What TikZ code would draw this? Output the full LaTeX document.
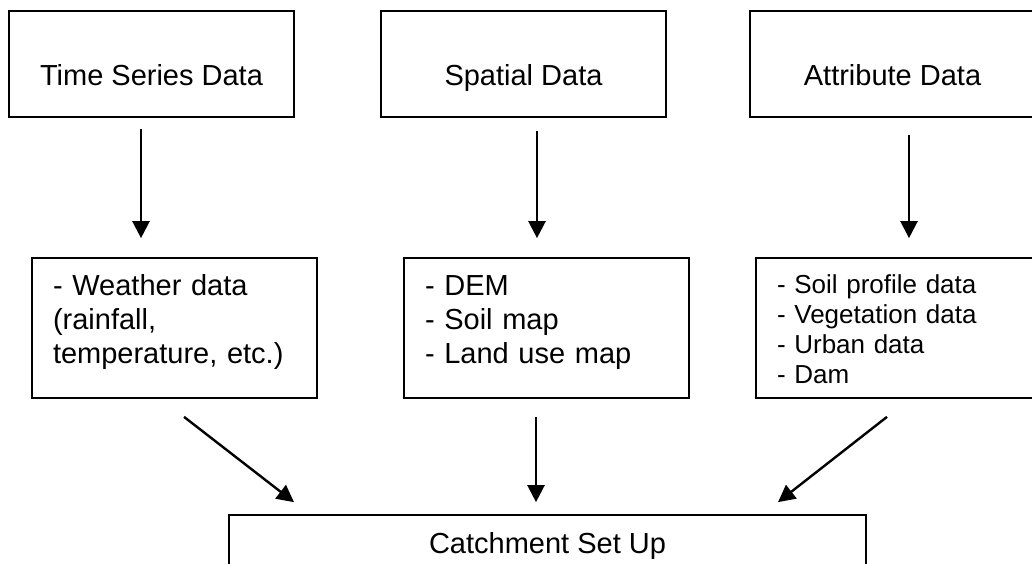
\documentclass[tikz,border=0pt]{standalone}
\usepackage{fontspec}
\setmainfont{Liberation Sans}
\usetikzlibrary{arrows.meta, calc}

\tikzset{
  databox/.style={draw, line width=1.7pt, minimum width=285pt, minimum height=106pt,
    font=\fontsize{29pt}{34pt}\selectfont, text height=44pt, text depth=0pt},
  listbox/.style={draw, line width=1.7pt, align=left, text width=243pt,
    inner xsep=21pt, inner ysep=0pt, font=\fontsize{29pt}{34pt}\selectfont,
    text height=37pt, text depth=103pt},
  smalllist/.style={listbox, font=\fontsize{26pt}{30pt}\selectfont,
    text height=35pt, text depth=105pt},
  setupbox/.style={draw, line width=1.7pt, minimum width=637pt, minimum height=62pt,
    font=\fontsize{29pt}{34pt}\selectfont},
  flow/.style={-{Triangle[length=17pt,width=17pt]}, line width=2.4pt},
}

\begin{document}
\begin{tikzpicture}[x=1pt, y=-1pt]
  \useasboundingbox (0,0) rectangle (1032,564);
  \clip (0,0) rectangle (1032,564);
  % input data types
  \node[databox] (ts) at (151.5,64) {Time Series Data};
  \node[databox] (sd) at (523.5,64) {Spatial Data};
  \node[databox] (ad) at (892.5,64) {Attribute Data};
  % what each type holds
  \node[listbox] (ws) at (174.5,328) {- Weather data\\(rainfall,\\temperature, etc.)};
  \node[listbox] (sm) at (546.5,328) {- DEM\\- Soil map\\- Land use map};
  \node[smalllist] (am) at (898.5,328) {- Soil profile data\\- Vegetation data\\- Urban data\\- Dam};
  % model set up
  \node[setupbox] (cs) at (547.5,546) {Catchment Set Up};
  % arrows, kept clear of the boxes
  \draw[flow] ($(ts.south)+(-10.5,11)$) -- ($(ws.north)+(-33.5,-19)$);
  \draw[flow] ($(sd.south)+(13.5,13)$) -- ($(sm.north)+(-9.5,-19)$);
  \draw[flow] ($(ad.south)+(16.5,17)$) -- ($(am.north)+(10.5,-19)$);
  \draw[flow] ($(ws.south)+(9.5,18)$) -- ($(cs.north)+(-253.5,-12)$);
  \draw[flow] ($(sm.south)+(-10.5,18)$) -- ($(cs.north)+(-11.5,-12)$);
  \draw[flow] ($(am.south)+(-11.5,18)$) -- ($(cs.north)+(230.5,-12)$);
\end{tikzpicture}
\end{document}
